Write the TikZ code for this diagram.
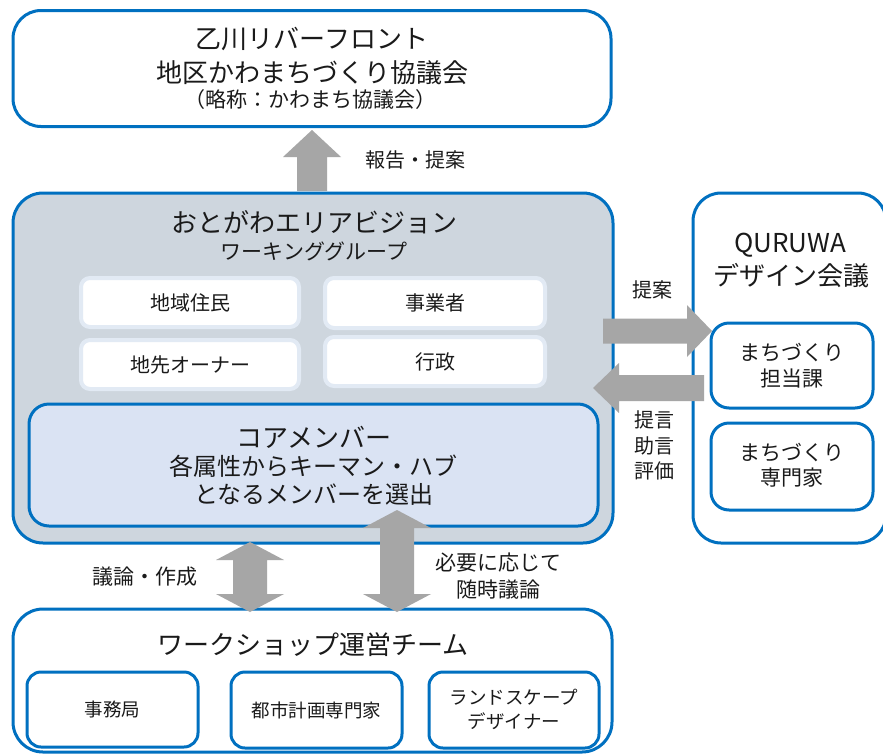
\documentclass[tikz,border=0pt]{standalone}
\usepackage{fontspec}
\setmainfont{Noto Sans CJK JP}
\usetikzlibrary{calc}
\definecolor{bblue}{HTML}{0070C0}
\definecolor{wgray}{HTML}{CED6DE}
\definecolor{corefill}{HTML}{DAE3F3}
\definecolor{arrgray}{HTML}{A6A6A6}
\definecolor{lightedge}{HTML}{E2EAF4}
\definecolor{txtc}{HTML}{1A1A1A}
\begin{document}
\begin{tikzpicture}[x=1pt,y=-1pt,
  bx/.style={draw=bblue, line width=3pt, inner sep=0pt, outer sep=0pt},
  wbox/.style={draw=lightedge, fill=white, line width=4pt, rounded corners=9pt, inner sep=0pt},
  tA/.style={font=\fontsize{26}{30}\selectfont, inner sep=0pt, text=txtc},
  tE/.style={font=\fontsize{24}{28}\selectfont, inner sep=0pt, text=txtc},
  tB/.style={font=\fontsize{21}{25}\selectfont, inner sep=0pt, text=txtc},
  tC/.style={font=\fontsize{20}{24}\selectfont, inner sep=0pt, text=txtc},
  tF/.style={font=\fontsize{21}{25}\selectfont, inner sep=0pt, text=txtc},
  tD/.style={font=\fontsize{18.5}{22}\selectfont, inner sep=0pt, text=txtc},
  blk/.style={fill=arrgray}]
\useasboundingbox (0,0) rectangle (883,755);
\clip (0,0) rectangle (883,755);
\fill[white] (0,0) rectangle (883,755);

% top box
\node[bx, fill=white, rounded corners=28pt, minimum width=598, minimum height=116] (top) at (312,68.5) {};
\node[tA] (t1) at (312,39) {乙川リバーフロント};
\node[tA] (t2) at (312,73) {地区かわまちづくり協議会};
\node[tF] (t3) at (310,100) {（略称：かわまち協議会）};

% working group box
\node[bx, fill=wgray, rounded corners=30pt, minimum width=600, minimum height=350] (wg) at (313,368) {};
\node[tA] (wg1) at (314,222) {おとがわエリアビジョン};
\node[tB] (wg2) at (314,251) {ワーキンググループ};
\node[wbox, minimum width=218, minimum height=49] (m1) at (190,302.5) {};
\node[tC] at (m1) {地域住民};
\node[wbox, minimum width=220, minimum height=50] (m2) at (435,303) {};
\node[tC] at (m2) {事業者};
\node[wbox, minimum width=218, minimum height=49] (m3) at (190,364.5) {};
\node[tC] at (m3) {地先オーナー};
\node[wbox, minimum width=220, minimum height=49] (m4) at (435,361.5) {};
\node[tC] at (m4) {行政};

% core box
\node[bx, fill=corefill, rounded corners=20pt, minimum width=569, minimum height=122] (core) at (313.5,465) {};
\node[tA] (c1) at (314,437) {コアメンバー};
\node[tE] (c2) at (313,466) {各属性からキーマン・ハブ};
\node[tE] (c3) at (314,494) {となるメンバーを選出};

% QURUWA box
\node[bx, fill=white, rounded corners=28pt, minimum width=193, minimum height=350] (qw) at (789.5,368) {};
\node[tA] (q1) at (790,245) {QURUWA};
\node[tA] (q2) at (791,276) {デザイン会議};
\node[bx, fill=white, rounded corners=18pt, minimum width=162, minimum height=85] (q3) at (792,365.5) {};
\node[tB] (q3a) at (792,353) {まちづくり};
\node[tB] (q3b) at (792,379) {担当課};
\node[bx, fill=white, rounded corners=18pt, minimum width=162, minimum height=87] (q4) at (792,466.5) {};
\node[tB] (q4a) at (792,453) {まちづくり};
\node[tB] (q4b) at (792,478) {専門家};

% workshop box
\node[bx, fill=white, rounded corners=30pt, minimum width=599, minimum height=143] (ws) at (312.5,680.5) {};
\node[tA] (ws1) at (313,645) {ワークショップ運営チーム};
\node[bx, fill=white, rounded corners=14pt, minimum width=171, minimum height=75] (w1) at (112.5,709.5) {};
\node[tD] at (w1) {事務局};
\node[bx, fill=white, rounded corners=14pt, minimum width=171, minimum height=76] (w2) at (316.5,710) {};
\node[tD] at (w2) {都市計画専門家};
\node[bx, fill=white, rounded corners=14pt, minimum width=170, minimum height=76] (w3) at (514,710) {};
\node[tD] (w3a) at (514,697) {ランドスケープ};
\node[tD] (w3b) at (514,721) {デザイナー};

% labels
\node[tC] (l1) at (415,160) {報告・提案};
\node[tC] (l2) at (652,290) {提案};
\node[tC] (l3) at (654,420) {提言};
\node[tC] (l4) at (654,446) {助言};
\node[tC] (l5) at (654,471) {評価};
\node[tB] (l6) at (145,577) {議論・作成};
\node[tB] (l7) at (498,563) {必要に応じて};
\node[tB] (l8) at (498,590) {随時議論};

% block arrows
\coordinate (a1e) at (312,130);
\fill[blk] (a1e) -- ++(29,27) -- ++(-14,0) -- ++(0,34) -- ++(-30,0) -- ++(0,-34) -- ++(-14,0) -- cycle;
\coordinate (a2e) at (712,331);
\fill[blk] (a2e) -- ++(-25,-26) -- ++(0,13.5) -- ++(-84,0) -- ++(0,25) -- ++(84,0) -- ++(0,13.5) -- cycle;
\coordinate (a3e) at (593,388);
\fill[blk] (a3e) -- ++(26,-25) -- ++(0,12) -- ++(85,0) -- ++(0,26) -- ++(-85,0) -- ++(0,12) -- cycle;
\coordinate (a4t) at (250,542);
\coordinate (a4b) at (250,612);
\fill[blk] (a4t) -- ++(34,18) -- ++(-17,0) -- ++(0,34) -- ++(17,0) -- (a4b) -- ++(-34,-18) -- ++(17,0) -- ++(0,-34) -- ++(-17,0) -- cycle;
\coordinate (a5t) at (397,510);
\coordinate (a5b) at (397,612);
\fill[blk] (a5t) -- ++(34,18) -- ++(-17,0) -- ++(0,66) -- ++(17,0) -- (a5b) -- ++(-34,-18) -- ++(17,0) -- ++(0,-66) -- ++(-17,0) -- cycle;
\end{tikzpicture}
\end{document}
